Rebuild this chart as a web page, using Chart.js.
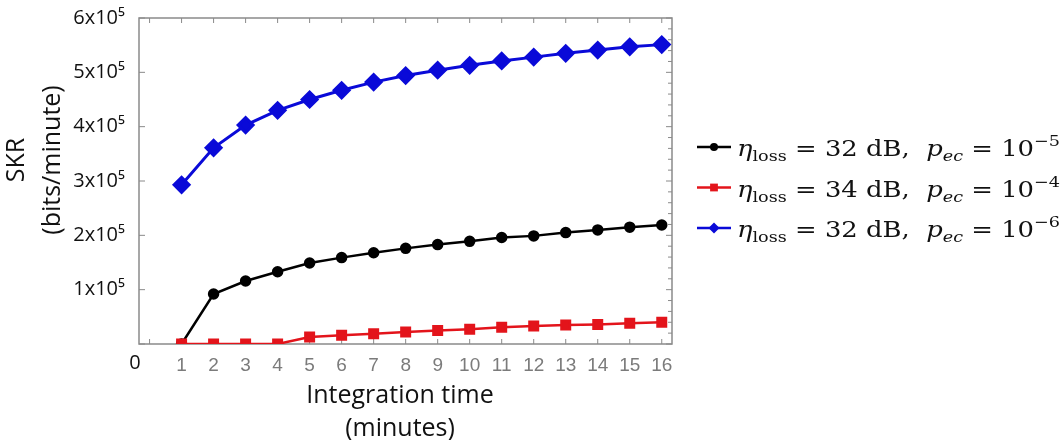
<!DOCTYPE html>
<html lang="en">
<head>
<meta charset="UTF-8">
<title>SKR vs Integration time</title>
<script src="https://cdn.jsdelivr.net/npm/chart.js"></script>
<style>
    html, body { margin: 0; padding: 0; background: #fff; }
    .chart-box { width: 1063px; height: 440px; position: relative; }
</style>
</head>
<body>
<div class="chart-box"><canvas id="skrChart"></canvas></div>

<script>
    // Integration time (minutes)
    var minutes = [1, 2, 3, 4, 5, 6, 7, 8, 9, 10, 11, 12, 13, 14, 15, 16];

    // SKR (bits/minute)
    var skrLoss32Pec5 = [0, 92000, 116000, 133000, 149000, 159000, 168000, 176000, 183000, 189000, 196000, 199000, 205000, 210000, 215000, 219000];
    var skrLoss34Pec4 = [0, 0, 0, 0, 13000, 16000, 19000, 22000, 25000, 27000, 31000, 33000, 35000, 36000, 38000, 40000];
    var skrLoss32Pec6 = [293000, 361000, 403000, 430000, 450000, 467000, 482000, 494000, 504000, 513000, 521000, 528000, 535000, 541000, 547000, 551000];

    // legend parameters
    var lossDb = [32, 34, 32];
    var pecExponent = [-5, -4, -6];
    var seriesColors = ['#000000', '#e3141b', '#0a0ad8'];

    var yTitle = ['SKR', '(bits/minute)'];
    var xTitle = ['Integration time', '(minutes)'];

    function toPoints(values) {
        return minutes.map(function (m, i) { return { x: m, y: values[i] }; });
    }

    Chart.defaults.font.family = '"Open Sans", sans-serif';

    // frame with inward ticks (like the original plot box)
    var framePlugin = {
        id: 'frame',
        beforeDatasetsDraw: function (chart) {
            var ctx = chart.ctx, a = chart.chartArea;
            var xs = chart.scales.x, ys = chart.scales.y;
            ctx.save();
            ctx.strokeStyle = '#8a8a8a';
            ctx.lineWidth = 1.5;
            ctx.strokeRect(a.left, a.top, a.right - a.left, a.bottom - a.top);
            ctx.lineWidth = 1;
            ctx.beginPath();
            for (var m = 0; m <= 16; m++) {
                var px = xs.getPixelForValue(m);
                ctx.moveTo(px, a.bottom); ctx.lineTo(px, a.bottom - 5);
                ctx.moveTo(px, a.top); ctx.lineTo(px, a.top + 5);
            }
            for (var v = 0; v <= 600000; v += 20000) {
                var py = ys.getPixelForValue(v);
                var major = v % 100000 === 0;
                ctx.moveTo(a.right, py); ctx.lineTo(a.right - (major ? 6 : 4), py);
                if (major) { ctx.moveTo(a.left, py); ctx.lineTo(a.left + 6, py); }
            }
            ctx.stroke();
            ctx.restore();
        }
    };

    function drawMathLabel(ctx, parts, x, baseline, targetWidth) {
        var total = 0;
        parts.forEach(function (p) {
            ctx.font = p.font;
            p.w = ctx.measureText(p.text).width;
            total += p.w;
        });
        var sx = targetWidth / total;
        ctx.save();
        ctx.translate(x, baseline);
        ctx.scale(sx, 1);
        ctx.textBaseline = 'alphabetic';
        ctx.textAlign = 'left';
        var cx = 0;
        parts.forEach(function (p) {
            ctx.font = p.font;
            ctx.fillText(p.text, cx, p.dy);
            cx += p.w;
        });
        ctx.restore();
    }

    var annotatePlugin = {
        id: 'annotate',
        afterDraw: function (chart) {
            var ctx = chart.ctx, a = chart.chartArea;
            ctx.save();
            ctx.fillStyle = '#111';

            // lone "0" under the y axis
            ctx.font = '20px "Open Sans"';
            ctx.textAlign = 'center';
            ctx.textBaseline = 'middle';
            ctx.fillText('0', a.left - 4, chart.scales.y.getPixelForValue(0) + 19);

            // axis titles
            ctx.font = '25px "Open Sans"';
            ctx.fillText(xTitle[0], 400, 396);
            ctx.fillText(xTitle[1], 400, 429);
            ctx.save();
            ctx.translate(0, 160);
            ctx.rotate(-Math.PI / 2);
            ctx.fillText(yTitle[0], 0, 17);
            ctx.fillText(yTitle[1], 0, 53);
            ctx.restore();

            // legend
            var serif = '"DejaVu Serif", serif';
            chart.data.datasets.forEach(function (ds, i) {
                var ly = 147 + i * 40.5;
                ctx.strokeStyle = ds.borderColor;
                ctx.fillStyle = ds.borderColor;
                ctx.lineWidth = 2.5;
                ctx.beginPath();
                ctx.moveTo(697, ly); ctx.lineTo(731, ly);
                ctx.stroke();
                Chart.helpers.drawPoint(ctx, {
                    pointStyle: ds.pointStyle, rotation: 0,
                    radius: ds.pointStyle === 'circle' ? 4 : 5.5, borderWidth: 0
                }, 714, ly);
                ctx.fillStyle = '#111';
                var parts = [
                    { text: 'η', font: 'italic 22px ' + serif, dy: 0 },
                    { text: 'loss', font: '15px ' + serif, dy: 5 },
                    { text: ' = ' + lossDb[i] + ' dB,  ', font: '22px ' + serif, dy: 0 },
                    { text: 'p', font: 'italic 22px ' + serif, dy: 0 },
                    { text: 'ec', font: 'italic 15px ' + serif, dy: 5 },
                    { text: ' = 10', font: '22px ' + serif, dy: 0 },
                    { text: '−' + Math.abs(pecExponent[i]), font: '15px ' + serif, dy: -10 }
                ];
                drawMathLabel(ctx, parts, 737, ly + 9, 323);
            });
            ctx.restore();
        }
    };

    var ctx = document.getElementById('skrChart').getContext('2d');
    var chart = new Chart(ctx, {
        type: 'line',
        data: {
            datasets: [{
                label: 'loss 32 dB, pec 1e-5',
                data: toPoints(skrLoss32Pec5),
                borderColor: seriesColors[0],
                backgroundColor: seriesColors[0],
                borderWidth: 2.5,
                pointStyle: 'circle',
                pointRadius: 4.5,
                order: 2
            }, {
                label: 'loss 34 dB, pec 1e-4',
                data: toPoints(skrLoss34Pec4),
                borderColor: seriesColors[1],
                backgroundColor: seriesColors[1],
                borderWidth: 2.5,
                pointStyle: 'rect',
                pointRadius: 6,
                order: 1
            }, {
                label: 'loss 32 dB, pec 1e-6',
                data: toPoints(skrLoss32Pec6),
                borderColor: seriesColors[2],
                backgroundColor: seriesColors[2],
                borderWidth: 3,
                pointStyle: 'rectRot',
                pointRadius: 7.5,
                order: 0
            }]
        },
        options: {
            responsive: true,
            maintainAspectRatio: false,
            animation: false,
            layout: { padding: { top: 15, right: 391, bottom: 0, left: 0 } },
            elements: { line: { tension: 0 }, point: { borderWidth: 0 } },
            scales: {
                x: {
                    type: 'linear',
                    min: -0.33,
                    max: 16.32,
                    afterFit: function (s) { s.height = 96; },
                    border: { display: false },
                    grid: { display: false },
                    ticks: {
                        stepSize: 1,
                        includeBounds: false,
                        padding: 2,
                        color: '#7b7b7b',
                        font: { family: '"Liberation Sans", Arial, sans-serif', size: 19 },
                        callback: function (v) { return v >= 1 ? v : ''; }
                    }
                },
                y: {
                    min: 0,
                    max: 600000,
                    afterFit: function (s) { s.width = 139; },
                    border: { display: false },
                    grid: { display: false },
                    ticks: {
                        stepSize: 100000,
                        padding: 6,
                        color: '#111',
                        font: { size: 20 },
                        callback: function (v) { return v === 0 ? '' : (v / 100000) + 'x10⁵'; }
                    }
                }
            },
            plugins: {
                legend: { display: false },
                tooltip: { enabled: false }
            }
        },
        plugins: [framePlugin, annotatePlugin]
    });
</script>
</body>
</html>
